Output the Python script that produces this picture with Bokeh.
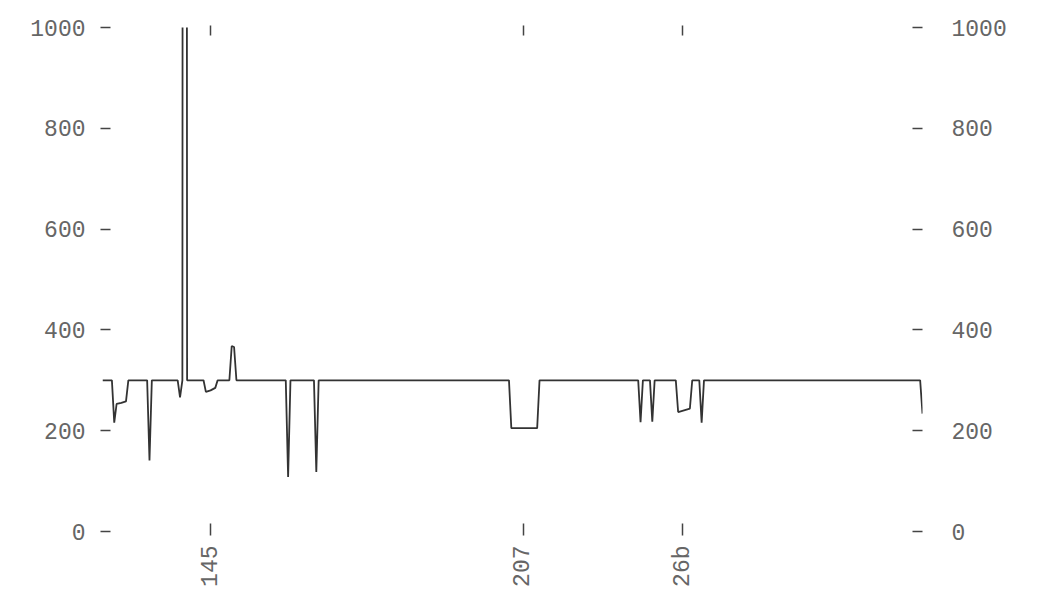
import math
from bokeh.plotting import figure
from bokeh.models import Range1d, LinearAxis, FixedTicker, ColumnDataSource
from bokeh.embed import file_html
from bokeh.resources import INLINE

# ---- data (vertices of the trace: position index, value) ----
pos = [0, 4, 5, 6, 8, 10, 11,
       19, 20, 21,
       32, 33, 34, 35, 36,
       43, 44, 46, 48, 49,
       54, 55, 56, 57,
       78, 79, 80,
       90, 91, 92,
       173, 174, 185, 186,
       228, 229, 230,
       233, 234, 235,
       244, 245, 250, 251,
       254, 255, 256,
       348, 349]
score = [300, 300, 216, 253, 255, 258, 300,
         300, 141, 300,
         300, 266, 300, 10000, 300,
         300, 277, 280, 285, 300,
         300, 368, 366, 300,
         300, 108, 300,
         300, 118, 300,
         300, 205, 205, 300,
         300, 217, 300,
         300, 218, 300,
         300, 237, 244, 300,
         300, 216, 300,
         300, 234]

x_tick_pos = [46, 179, 247]
x_tick_labels = ["145", "207", "26b"]
y_ticks = [0, 200, 400, 600, 800, 1000]

FONT = "Liberation Mono"
TXT = "#666666"
TICK = "#444444"

p = figure(frame_width=820, frame_height=504,
           x_range=Range1d(0, 349), y_range=Range1d(0, 1000),
           output_backend="svg", toolbar_location=None,
           x_axis_location=None, y_axis_location=None,
           min_border_left=102, min_border_right=113,
           min_border_top=27, min_border_bottom=67)
p.grid.visible = False
p.outline_line_color = None
p.background_fill_color = "white"
p.border_fill_color = "white"

src = ColumnDataSource(dict(x=pos, y=score))
p.line("x", "y", source=src, line_color="#333333", line_width=1.8)

def style(ax, tin, tout, standoff, labels=True):
    ax.axis_line_color = None
    ax.minor_tick_line_color = None
    ax.major_tick_line_color = TICK
    ax.major_tick_line_width = 1.5
    ax.major_tick_in = tin
    ax.major_tick_out = tout
    ax.major_label_standoff = standoff
    ax.major_label_text_font = FONT
    ax.major_label_text_font_size = "23px"
    ax.major_label_text_color = TXT
    if not labels:
        ax.major_label_text_color = None

left = LinearAxis(ticker=FixedTicker(ticks=y_ticks))
style(left, 8, 2, 15)
p.add_layout(left, "left")

right = LinearAxis(ticker=FixedTicker(ticks=y_ticks))
style(right, 10, 0, 29)
p.add_layout(right, "right")

bottom = LinearAxis(ticker=FixedTicker(ticks=x_tick_pos))
bottom.major_label_overrides = dict(zip(x_tick_pos, x_tick_labels))
bottom.major_label_orientation = math.pi / 2
style(bottom, 8, 4, 10)
p.add_layout(bottom, "below")

top = LinearAxis(ticker=FixedTicker(ticks=x_tick_pos))
style(top, 8, 2, 0, labels=False)
p.add_layout(top, "above")

open("out.html", "w").write(file_html(p, INLINE))
